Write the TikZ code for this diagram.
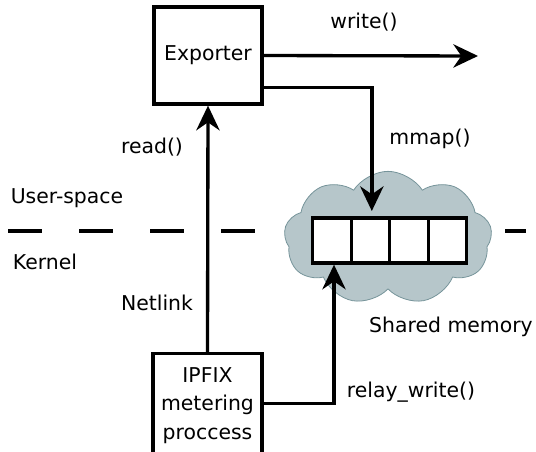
\documentclass[tikz,border=0pt]{standalone}
\usepackage{fontspec}
\setmainfont{DejaVu Sans}
\usetikzlibrary{arrows.meta,shapes.symbols}
\definecolor{cloudfill}{RGB}{182,198,202}
\definecolor{cloudline}{RGB}{118,148,154}
\tikzset{
  px/.style={x=0.75pt,y=-0.75pt},
  box/.style={draw,line width=2.5pt,fill=white,align=center,inner sep=0pt},
  cellbox/.style={draw,line width=2.5pt,fill=white,minimum width=28.9pt,minimum height=33.75pt,inner sep=0pt},
  arr/.style={line width=2.5pt,-{Stealth[length=18.5pt,width=17.5pt,inset=6pt]}},
  lbl/.style={font=\fontsize{15.3}{18}\selectfont,inner sep=0pt}
}
\begin{document}
\begin{tikzpicture}[px]
\useasboundingbox (0,0) rectangle (536,451);
\clip (0,0) rectangle (536,451);
% dashed separator
\draw[line width=2.5pt,dash pattern=on 25.5pt off 27.75pt] (8,231) -- (526,231);
% cloud
\node[cloud,cloud puffs=9,cloud puff arc=115,aspect=1.6,draw=cloudline,fill=cloudfill,line width=0.6pt,minimum width=156pt,minimum height=100pt,inner sep=0pt] (cloud) at (388,238) {};
% buffer cells
\node[cellbox] (c1) at (332,240.5) {};
\node[cellbox] (c2) at (370.5,240.5) {};
\node[cellbox] (c3) at (409,240.5) {};
\node[cellbox] (c4) at (447.5,240.5) {};
% boxes
\node[box,minimum width=81pt,minimum height=72.75pt,font=\fontsize{15.3}{18}\selectfont] (exp) at (208,55.5) {Exporter};
\node[box,minimum width=81.75pt,minimum height=78pt,font=\fontsize{15.3}{21.4}\selectfont,anchor=north] (ipfix) at (207.5,352) {IPFIX\\metering\\proccess};
% coordinates
\coordinate (wend) at (478,56);
% connectors
\draw[arr] (exp.east) -- (wend);
\draw[arr] ([yshift=-24pt,xshift=-2pt]exp.east) -| ([yshift=4pt,xshift=1pt]c2.north);
\draw[arr] (ipfix.north) -- (exp.south);
\draw[arr] ([yshift=1.5pt]ipfix.east) -| ([xshift=1.5pt]c1.south);
% labels
\node[lbl] (lw) at (364,22) {write()};
\node[lbl] (lm) at (430,139) {mmap()};
\node[lbl] (lr) at (152,147) {read()};
\node[lbl] (lu) at (67,198) {User-space};
\node[lbl] (lk) at (45,262) {Kernel};
\node[lbl] (ln) at (157,303) {Netlink};
\node[lbl] (ls) at (451,327) {Shared memory};
\node[lbl] (lrw) at (411,392) {relay\_write()};
\end{tikzpicture}
\end{document}
